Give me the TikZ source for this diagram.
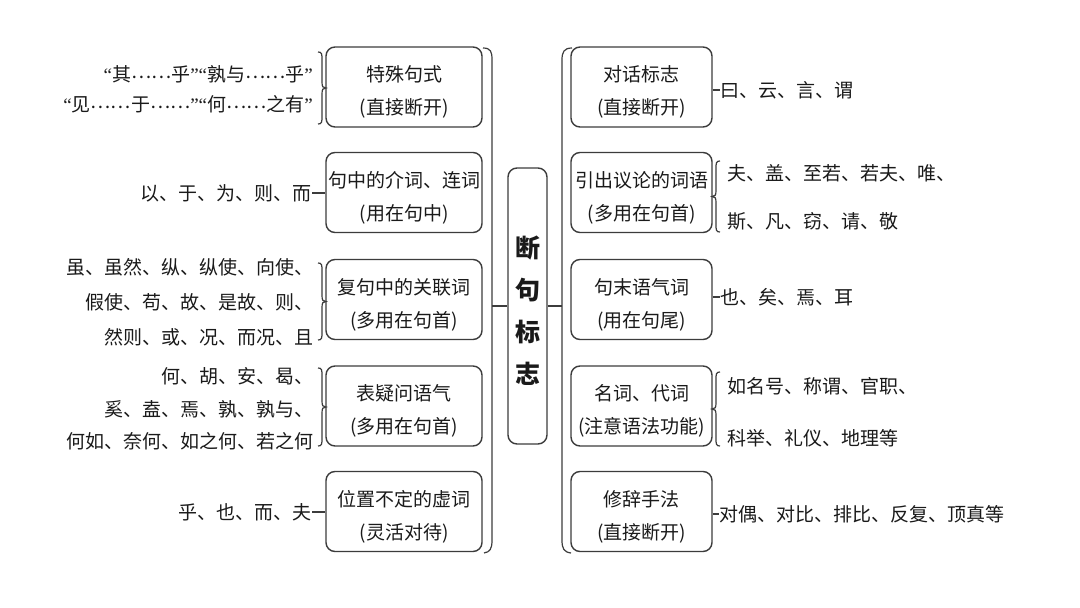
\documentclass[tikz,border=0pt]{standalone}
\usepackage{fontspec}
\setmainfont{Noto Sans CJK SC}
\newfontfamily\latq{Liberation Serif}
\newcommand\myLQ{{\latq “}}
\newcommand\myRQ{{\latq ”}}
\newcommand\myDD{\raisebox{3pt}{……}}
\definecolor{lc}{HTML}{3C3C3C}
\definecolor{tc}{HTML}{1A1A1A}
\tikzset{
 box/.style={draw=lc, line width=1.4pt, rounded corners=9pt, minimum height=80pt, inner sep=0pt},
 lbox/.style={box, minimum width=156pt},
 rbox/.style={box, minimum width=141pt},
 btxt/.style={inner sep=0pt, align=center, text=tc, font=\fontsize{19}{33}\selectfont},
 txt/.style={inner sep=0pt, text=tc, font=\fontsize{19}{33}\selectfont},
 link/.style={draw=lc, line width=1.2pt},
 brc/.style={draw=lc, line width=1.2pt},
}
\newcommand\bracL[3]{%
 \draw[brc] ({#1-4},#2) .. controls (#1,#2) and (#1,{#2+2}) .. (#1,{#2+8}) -- (#1,{(#2+#3)/2-6}) .. controls (#1,{(#2+#3)/2-1}) and ({#1+1},{(#2+#3)/2}) .. ({#1+4},{(#2+#3)/2}) .. controls ({#1+1},{(#2+#3)/2}) and (#1,{(#2+#3)/2+1}) .. (#1,{(#2+#3)/2+6}) -- (#1,{#3-8}) .. controls (#1,{#3-2}) and (#1,#3) .. ({#1-4},#3);}
\newcommand\bracR[3]{%
 \draw[brc] ({#1+4},#2) .. controls (#1,#2) and (#1,{#2+2}) .. (#1,{#2+8}) -- (#1,{(#2+#3)/2-6}) .. controls (#1,{(#2+#3)/2-1}) and ({#1-1},{(#2+#3)/2}) .. ({#1-4},{(#2+#3)/2}) .. controls ({#1-1},{(#2+#3)/2}) and (#1,{(#2+#3)/2+1}) .. (#1,{(#2+#3)/2+6}) -- (#1,{#3-8}) .. controls (#1,{#3-2}) and (#1,#3) .. ({#1+4},#3);}
\begin{document}
\begin{tikzpicture}[x=1pt,y=-1pt]
\useasboundingbox[fill=white] (0,0) rectangle (1080,608);
% left boxes
\node[lbox] (L1) at (404,87) {};
\node[lbox] (L2) at (404,192.5) {};
\node[lbox] (L3) at (404,299.5) {};
\node[lbox] (L4) at (404,406) {};
\node[lbox] (L5) at (404,511.5) {};
\node[btxt] (L1t) at ([yshift=-5pt]L1.center) {特殊句式\\(直接断开)};
\node[btxt] (L2t) at ([yshift=-5pt]L2.center) {句中的介词、连词\\(用在句中)};
\node[btxt] (L3t) at ([yshift=-5pt]L3.center) {复句中的关联词\\(多用在句首)};
\node[btxt] (L4t) at ([yshift=-5pt]L4.center) {表疑问语气\\(多用在句首)};
\node[btxt] (L5t) at ([yshift=-5pt]L5.center) {位置不定的虚词\\(灵活对待)};
% right boxes
\node[rbox] (R1) at (641.5,87) {};
\node[rbox] (R2) at (641.5,192.5) {};
\node[rbox] (R3) at (641.5,299.5) {};
\node[rbox] (R4) at (641.5,406) {};
\node[rbox] (R5) at (641.5,511.5) {};
\node[btxt] (R1t) at ([yshift=-5pt]R1.center) {对话标志\\(直接断开)};
\node[btxt] (R2t) at ([yshift=-5pt]R2.center) {引出议论的词语\\(多用在句首)};
\node[btxt] (R3t) at ([yshift=-5pt]R3.center) {句末语气词\\(用在句尾)};
\node[btxt] (R4t) at ([yshift=-5pt]R4.center) {名词、代词\\(注意语法功能)};
\node[btxt] (R5t) at ([yshift=-5pt]R5.center) {修辞手法\\(直接断开)};
% center
\node[box, minimum width=39pt, minimum height=276pt] (C) at (527.5,306) {};
\node[inner sep=0pt, align=center, text=tc, font=\fontsize{25}{42}\selectfont\bfseries] (Ct) at ([yshift=-5pt]C.center) {断\\句\\标\\志};
% big brackets
\draw[brc] (483,48) .. controls (491,48) and (492,52) .. (492,60) -- (492,540) .. controls (492,549) and (490,552) .. (484,553);
\draw[brc] (572,48) .. controls (564,48) and (562,52) .. (562,60) -- (562,540) .. controls (562,549) and (564,552) .. (571,553);
\coordinate (lb) at (492,306);
\coordinate (rb) at (562,306);
\draw[link] (lb) -- (C.west);
\draw[link] (C.east) -- (rb);
% left texts
\node[txt, anchor=east, align=right, font=\fontsize{19}{30}\selectfont] (tL1) at (313,89) {\myLQ 其\myDD 乎\myRQ\myLQ 孰与\myDD 乎\myRQ\\\myLQ 见\myDD 于\myDD\myRQ\myLQ 何\myDD 之有\myRQ};
\bracL{322}{52}{124}
\node[txt, anchor=east] (tL2) at (312,193) {以、于、为、则、而};
\draw[link] (tL2.east) -- (tL2.east -| L2.west);
\node[txt, anchor=east, align=right, font=\fontsize{19}{35}\selectfont] (tL3) at (314,302) {虽、虽然、纵、纵使、向使、\\假使、苟、故、是故、则、\\然则、或、况、而况、且};
\bracL{322}{263}{340}
\node[txt, anchor=east, align=right, font=\fontsize{19}{32.5}\selectfont] (tL4) at (314,409) {何、胡、安、曷、\\奚、盍、焉、孰、孰与、\\何如、奈何、如之何、若之何};
\bracL{322}{368}{446}
\node[txt, anchor=east] (tL5) at (312,512) {乎、也、而、夫};
\draw[link] (tL5.east) -- (tL5.east -| L5.west);
% right texts
\node[txt, anchor=west] (tR1) at (720,90) {曰、云、言、谓};
\draw[link] (R1.east |- tR1.west) -- (tR1.west);
\node[txt, anchor=west, align=left, font=\fontsize{19}{48}\selectfont] (tR2) at (727,197) {夫、盖、至若、若夫、唯、\\斯、凡、窃、请、敬};
\bracR{716}{161}{232}
\node[txt, anchor=west] (tR3) at (720,297) {也、矣、焉、耳};
\draw[link] (R3.east |- tR3.west) -- (tR3.west);
\node[txt, anchor=west, align=left, font=\fontsize{19}{52}\selectfont] (tR4) at (727,412) {如名号、称谓、官职、\\科举、礼仪、地理等};
\bracR{716}{372}{446}
\node[txt, anchor=west] (tR5) at (719,514) {对偶、对比、排比、反复、顶真等};
\draw[link] (R5.east |- tR5.west) -- (tR5.west);
\end{tikzpicture}
\end{document}
